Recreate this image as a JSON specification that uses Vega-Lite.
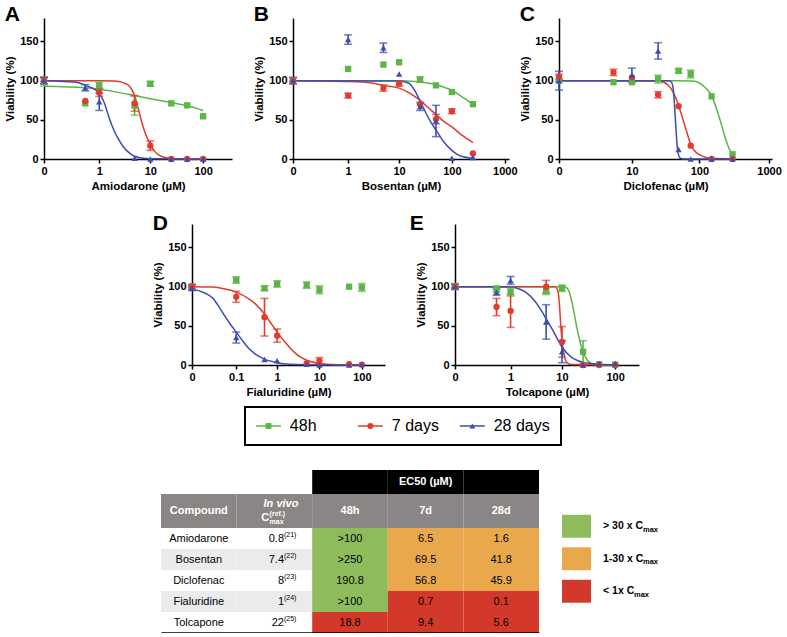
{
"$schema": "https://vega.github.io/schema/vega-lite/v6.json",
"background": "white",
"padding": {"left": 4, "top": 3, "right": 0, "bottom": 0},
"config": {
  "view": {"stroke": null},
  "font": "Liberation Sans",
  "axis": {"domainColor": "black", "domainWidth": 1.5, "tickColor": "black", "tickWidth": 1.5, "tickSize": 4, "grid": false,
    "labelFont": "Liberation Sans", "labelFontWeight": "bold", "labelFontSize": 11, "labelColor": "black", "labelPadding": 2,
    "titleFont": "Liberation Sans", "titleFontWeight": "bold", "titleFontSize": 11.5, "titleColor": "black", "titlePadding": 4},
  "axisX": {"labelFlush": false, "labelOverlap": false},
  "title": {"anchor": "start", "frame": "bounds", "fontSize": 21, "font": "Liberation Sans", "fontWeight": "bold", "color": "black", "offset": -6.5}
},
"datasets": {
  "points": [
    {"panel":"A","series":"48h","dose":0,"viability":99,"sem":6},{"panel":"A","series":"48h","dose":0.5,"viability":71,"sem":0},{"panel":"A","series":"48h","dose":1,"viability":94,"sem":4},{"panel":"A","series":"48h","dose":5,"viability":68,"sem":12},{"panel":"A","series":"48h","dose":10,"viability":96,"sem":3},{"panel":"A","series":"48h","dose":25,"viability":71,"sem":0},{"panel":"A","series":"48h","dose":50,"viability":68.5,"sem":0},{"panel":"A","series":"48h","dose":100,"viability":54.5,"sem":0},
    {"panel":"A","series":"7 days","dose":0,"viability":100,"sem":4},{"panel":"A","series":"7 days","dose":0.5,"viability":74,"sem":0},{"panel":"A","series":"7 days","dose":1,"viability":85,"sem":5},{"panel":"A","series":"7 days","dose":5,"viability":71,"sem":10},{"panel":"A","series":"7 days","dose":10,"viability":17,"sem":6},{"panel":"A","series":"7 days","dose":25,"viability":0,"sem":0},{"panel":"A","series":"7 days","dose":50,"viability":0,"sem":0},{"panel":"A","series":"7 days","dose":100,"viability":0,"sem":0},
    {"panel":"A","series":"28 days","dose":0,"viability":100,"sem":4},{"panel":"A","series":"28 days","dose":0.5,"viability":91,"sem":4},{"panel":"A","series":"28 days","dose":1,"viability":73,"sem":11},{"panel":"A","series":"28 days","dose":5,"viability":1,"sem":0},{"panel":"A","series":"28 days","dose":10,"viability":0,"sem":0},{"panel":"A","series":"28 days","dose":25,"viability":0,"sem":0},{"panel":"A","series":"28 days","dose":50,"viability":0,"sem":0},{"panel":"A","series":"28 days","dose":100,"viability":0,"sem":0},
    {"panel":"B","series":"48h","dose":0,"viability":100,"sem":0},{"panel":"B","series":"48h","dose":1,"viability":115,"sem":0},{"panel":"B","series":"48h","dose":5,"viability":120.5,"sem":0},{"panel":"B","series":"48h","dose":10,"viability":123.5,"sem":0},{"panel":"B","series":"48h","dose":25,"viability":101.5,"sem":3},{"panel":"B","series":"48h","dose":50,"viability":94,"sem":0},{"panel":"B","series":"48h","dose":100,"viability":85.5,"sem":0},{"panel":"B","series":"48h","dose":250,"viability":70,"sem":0},
    {"panel":"B","series":"7 days","dose":0,"viability":100,"sem":4},{"panel":"B","series":"7 days","dose":1,"viability":81,"sem":3},{"panel":"B","series":"7 days","dose":5,"viability":90.5,"sem":4},{"panel":"B","series":"7 days","dose":10,"viability":96,"sem":3},{"panel":"B","series":"7 days","dose":25,"viability":70,"sem":0},{"panel":"B","series":"7 days","dose":50,"viability":51,"sem":6},{"panel":"B","series":"7 days","dose":100,"viability":61,"sem":3},{"panel":"B","series":"7 days","dose":250,"viability":7,"sem":0},
    {"panel":"B","series":"28 days","dose":0,"viability":100,"sem":4},{"panel":"B","series":"28 days","dose":1,"viability":152.5,"sem":6},{"panel":"B","series":"28 days","dose":5,"viability":142,"sem":6},{"panel":"B","series":"28 days","dose":10,"viability":108.5,"sem":0},{"panel":"B","series":"28 days","dose":25,"viability":67,"sem":5},{"panel":"B","series":"28 days","dose":50,"viability":48.5,"sem":20},{"panel":"B","series":"28 days","dose":100,"viability":1,"sem":0},{"panel":"B","series":"28 days","dose":250,"viability":2,"sem":0},
    {"panel":"C","series":"48h","dose":0,"viability":100,"sem":0},{"panel":"C","series":"48h","dose":5,"viability":98,"sem":0},{"panel":"C","series":"48h","dose":10,"viability":98,"sem":0},{"panel":"C","series":"48h","dose":25,"viability":102,"sem":5},{"panel":"C","series":"48h","dose":50,"viability":112.5,"sem":3},{"panel":"C","series":"48h","dose":75,"viability":108.5,"sem":5},{"panel":"C","series":"48h","dose":150,"viability":80,"sem":0},{"panel":"C","series":"48h","dose":300,"viability":6,"sem":0},
    {"panel":"C","series":"7 days","dose":0,"viability":105,"sem":3},{"panel":"C","series":"7 days","dose":5,"viability":110.5,"sem":4},{"panel":"C","series":"7 days","dose":10,"viability":104,"sem":0},{"panel":"C","series":"7 days","dose":25,"viability":82,"sem":4},{"panel":"C","series":"7 days","dose":50,"viability":67.5,"sem":0},{"panel":"C","series":"7 days","dose":75,"viability":17,"sem":0},{"panel":"C","series":"7 days","dose":150,"viability":0,"sem":0},{"panel":"C","series":"7 days","dose":300,"viability":0,"sem":0},
    {"panel":"C","series":"28 days","dose":0,"viability":100,"sem":12},{"panel":"C","series":"28 days","dose":10,"viability":107,"sem":9},{"panel":"C","series":"28 days","dose":25,"viability":138,"sem":10.5},{"panel":"C","series":"28 days","dose":50,"viability":12,"sem":0},{"panel":"C","series":"28 days","dose":75,"viability":0,"sem":0},{"panel":"C","series":"28 days","dose":150,"viability":0,"sem":0},{"panel":"C","series":"28 days","dose":300,"viability":0,"sem":0},
    {"panel":"D","series":"48h","dose":0,"viability":100,"sem":3},{"panel":"D","series":"48h","dose":0.1,"viability":108.5,"sem":4},{"panel":"D","series":"48h","dose":0.5,"viability":98,"sem":3},{"panel":"D","series":"48h","dose":1,"viability":103.5,"sem":4},{"panel":"D","series":"48h","dose":5,"viability":102,"sem":4},{"panel":"D","series":"48h","dose":10,"viability":96,"sem":5},{"panel":"D","series":"48h","dose":50,"viability":100,"sem":0},{"panel":"D","series":"48h","dose":100,"viability":99,"sem":5},
    {"panel":"D","series":"7 days","dose":0,"viability":100,"sem":3},{"panel":"D","series":"7 days","dose":0.1,"viability":87,"sem":7},{"panel":"D","series":"7 days","dose":0.5,"viability":61,"sem":24},{"panel":"D","series":"7 days","dose":1,"viability":37.5,"sem":8.5},{"panel":"D","series":"7 days","dose":5,"viability":2,"sem":0},{"panel":"D","series":"7 days","dose":10,"viability":5.5,"sem":4},{"panel":"D","series":"7 days","dose":50,"viability":1,"sem":0},{"panel":"D","series":"7 days","dose":100,"viability":0.5,"sem":0},
    {"panel":"D","series":"28 days","dose":0,"viability":98,"sem":3},{"panel":"D","series":"28 days","dose":0.1,"viability":35,"sem":7},{"panel":"D","series":"28 days","dose":0.5,"viability":7,"sem":0},{"panel":"D","series":"28 days","dose":1,"viability":5.5,"sem":0},{"panel":"D","series":"28 days","dose":5,"viability":1,"sem":0},{"panel":"D","series":"28 days","dose":10,"viability":0,"sem":0},{"panel":"D","series":"28 days","dose":50,"viability":0,"sem":0},{"panel":"D","series":"28 days","dose":100,"viability":0.5,"sem":0},
    {"panel":"E","series":"48h","dose":0,"viability":100,"sem":4},{"panel":"E","series":"48h","dose":0.5,"viability":97,"sem":4},{"panel":"E","series":"48h","dose":1,"viability":93,"sem":5},{"panel":"E","series":"48h","dose":5,"viability":95,"sem":5},{"panel":"E","series":"48h","dose":10,"viability":98,"sem":4},{"panel":"E","series":"48h","dose":25,"viability":17,"sem":14},{"panel":"E","series":"48h","dose":50,"viability":1,"sem":0},{"panel":"E","series":"48h","dose":100,"viability":0.5,"sem":0},
    {"panel":"E","series":"7 days","dose":0,"viability":100,"sem":3},{"panel":"E","series":"7 days","dose":0.5,"viability":74,"sem":11},{"panel":"E","series":"7 days","dose":1,"viability":69,"sem":21},{"panel":"E","series":"7 days","dose":5,"viability":100,"sem":8},{"panel":"E","series":"7 days","dose":10,"viability":29.5,"sem":19.5},{"panel":"E","series":"7 days","dose":25,"viability":0,"sem":0},{"panel":"E","series":"7 days","dose":50,"viability":0,"sem":0},{"panel":"E","series":"7 days","dose":100,"viability":0,"sem":0},
    {"panel":"E","series":"28 days","dose":0,"viability":100,"sem":3},{"panel":"E","series":"28 days","dose":0.5,"viability":93,"sem":4},{"panel":"E","series":"28 days","dose":1,"viability":108,"sem":5},{"panel":"E","series":"28 days","dose":5,"viability":55,"sem":22},{"panel":"E","series":"28 days","dose":10,"viability":17,"sem":14},{"panel":"E","series":"28 days","dose":25,"viability":0,"sem":0},{"panel":"E","series":"28 days","dose":50,"viability":2,"sem":0},{"panel":"E","series":"28 days","dose":100,"viability":2,"sem":0}
  ],
  "fits": [
    {"panel":"A","series":"48h","dose":0,"viability":93},{"panel":"A","series":"48h","dose":0.5,"viability":91},{"panel":"A","series":"48h","dose":1,"viability":89},{"panel":"A","series":"48h","dose":2,"viability":86},{"panel":"A","series":"48h","dose":5,"viability":81},{"panel":"A","series":"48h","dose":10,"viability":77},{"panel":"A","series":"48h","dose":25,"viability":72},{"panel":"A","series":"48h","dose":50,"viability":68},{"panel":"A","series":"48h","dose":100,"viability":62},
    {"panel":"A","series":"7 days","dose":0,"viability":100},{"panel":"A","series":"7 days","dose":1,"viability":100},{"panel":"A","series":"7 days","dose":2,"viability":99.5},{"panel":"A","series":"7 days","dose":3,"viability":97.5},{"panel":"A","series":"7 days","dose":4,"viability":93},{"panel":"A","series":"7 days","dose":5,"viability":81},{"panel":"A","series":"7 days","dose":6,"viability":62},{"panel":"A","series":"7 days","dose":6.5,"viability":53},{"panel":"A","series":"7 days","dose":7,"viability":45},{"panel":"A","series":"7 days","dose":8,"viability":33},{"panel":"A","series":"7 days","dose":10,"viability":19},{"panel":"A","series":"7 days","dose":12,"viability":10},{"panel":"A","series":"7 days","dose":15,"viability":4.5},{"panel":"A","series":"7 days","dose":20,"viability":1.5},{"panel":"A","series":"7 days","dose":30,"viability":0.3},{"panel":"A","series":"7 days","dose":100,"viability":0},
    {"panel":"A","series":"28 days","dose":0,"viability":100},{"panel":"A","series":"28 days","dose":0.3,"viability":98},{"panel":"A","series":"28 days","dose":0.5,"viability":94},{"panel":"A","series":"28 days","dose":1,"viability":84},{"panel":"A","series":"28 days","dose":1.3,"viability":70},{"panel":"A","series":"28 days","dose":1.6,"viability":52},{"panel":"A","series":"28 days","dose":2,"viability":36},{"panel":"A","series":"28 days","dose":2.5,"viability":24},{"panel":"A","series":"28 days","dose":3,"viability":16},{"panel":"A","series":"28 days","dose":4,"viability":7.5},{"panel":"A","series":"28 days","dose":5,"viability":3.5},{"panel":"A","series":"28 days","dose":7,"viability":1.2},{"panel":"A","series":"28 days","dose":10,"viability":0.4},{"panel":"A","series":"28 days","dose":100,"viability":0},
    {"panel":"B","series":"48h","dose":0,"viability":100},{"panel":"B","series":"48h","dose":10,"viability":99.8},{"panel":"B","series":"48h","dose":20,"viability":99},{"panel":"B","series":"48h","dose":30,"viability":97.5},{"panel":"B","series":"48h","dose":50,"viability":95},{"panel":"B","series":"48h","dose":75,"viability":91},{"panel":"B","series":"48h","dose":100,"viability":87.5},{"panel":"B","series":"48h","dose":150,"viability":80},{"panel":"B","series":"48h","dose":200,"viability":74.5},{"panel":"B","series":"48h","dose":250,"viability":70},
    {"panel":"B","series":"7 days","dose":0,"viability":100},{"panel":"B","series":"7 days","dose":1,"viability":99},{"panel":"B","series":"7 days","dose":3,"viability":97},{"panel":"B","series":"7 days","dose":5,"viability":94},{"panel":"B","series":"7 days","dose":10,"viability":90.5},{"panel":"B","series":"7 days","dose":15,"viability":85},{"panel":"B","series":"7 days","dose":20,"viability":79.5},{"panel":"B","series":"7 days","dose":25,"viability":75},{"panel":"B","series":"7 days","dose":35,"viability":66},{"panel":"B","series":"7 days","dose":50,"viability":57},{"panel":"B","series":"7 days","dose":70,"viability":48},{"panel":"B","series":"7 days","dose":100,"viability":41},{"panel":"B","series":"7 days","dose":150,"viability":31},{"panel":"B","series":"7 days","dose":250,"viability":21},
    {"panel":"B","series":"28 days","dose":0,"viability":100},{"panel":"B","series":"28 days","dose":10,"viability":99.5},{"panel":"B","series":"28 days","dose":15,"viability":97},{"panel":"B","series":"28 days","dose":20,"viability":87},{"panel":"B","series":"28 days","dose":25,"viability":74},{"panel":"B","series":"28 days","dose":30,"viability":63},{"panel":"B","series":"28 days","dose":40,"viability":47},{"panel":"B","series":"28 days","dose":50,"viability":37},{"panel":"B","series":"28 days","dose":70,"viability":22},{"panel":"B","series":"28 days","dose":100,"viability":11},{"panel":"B","series":"28 days","dose":150,"viability":3.5},{"panel":"B","series":"28 days","dose":250,"viability":1},
    {"panel":"C","series":"48h","dose":0,"viability":100},{"panel":"C","series":"48h","dose":50,"viability":100},{"panel":"C","series":"48h","dose":80,"viability":99.5},{"panel":"C","series":"48h","dose":100,"viability":97},{"panel":"C","series":"48h","dose":120,"viability":91.5},{"panel":"C","series":"48h","dose":150,"viability":81},{"panel":"C","series":"48h","dose":180,"viability":62},{"panel":"C","series":"48h","dose":200,"viability":49},{"panel":"C","series":"48h","dose":225,"viability":33},{"panel":"C","series":"48h","dose":250,"viability":20},{"panel":"C","series":"48h","dose":275,"viability":11},{"panel":"C","series":"48h","dose":300,"viability":6},
    {"panel":"C","series":"7 days","dose":0,"viability":100},{"panel":"C","series":"7 days","dose":25,"viability":99.5},{"panel":"C","series":"7 days","dose":30,"viability":98},{"panel":"C","series":"7 days","dose":35,"viability":94.5},{"panel":"C","series":"7 days","dose":40,"viability":88},{"panel":"C","series":"7 days","dose":45,"viability":79},{"panel":"C","series":"7 days","dose":50,"viability":68},{"panel":"C","series":"7 days","dose":55,"viability":57},{"panel":"C","series":"7 days","dose":60,"viability":46},{"panel":"C","series":"7 days","dose":65,"viability":36},{"panel":"C","series":"7 days","dose":75,"viability":19},{"panel":"C","series":"7 days","dose":85,"viability":10.5},{"panel":"C","series":"7 days","dose":100,"viability":5.5},{"panel":"C","series":"7 days","dose":125,"viability":2},{"panel":"C","series":"7 days","dose":150,"viability":0.8},{"panel":"C","series":"7 days","dose":300,"viability":0},
    {"panel":"C","series":"28 days","dose":0,"viability":100},{"panel":"C","series":"28 days","dose":37,"viability":100},{"panel":"C","series":"28 days","dose":40,"viability":97},{"panel":"C","series":"28 days","dose":42,"viability":88},{"panel":"C","series":"28 days","dose":43.5,"viability":70},{"panel":"C","series":"28 days","dose":45,"viability":50},{"panel":"C","series":"28 days","dose":46.5,"viability":30},{"panel":"C","series":"28 days","dose":48,"viability":14},{"panel":"C","series":"28 days","dose":50,"viability":5},{"panel":"C","series":"28 days","dose":53,"viability":1},{"panel":"C","series":"28 days","dose":60,"viability":0},{"panel":"C","series":"28 days","dose":300,"viability":0},
    {"panel":"D","series":"7 days","dose":0,"viability":100},{"panel":"D","series":"7 days","dose":0.02,"viability":99.5},{"panel":"D","series":"7 days","dose":0.05,"viability":97},{"panel":"D","series":"7 days","dose":0.1,"viability":93},{"panel":"D","series":"7 days","dose":0.2,"viability":85},{"panel":"D","series":"7 days","dose":0.3,"viability":78},{"panel":"D","series":"7 days","dose":0.5,"viability":65},{"panel":"D","series":"7 days","dose":0.7,"viability":54},{"panel":"D","series":"7 days","dose":1,"viability":42},{"panel":"D","series":"7 days","dose":1.5,"viability":30},{"panel":"D","series":"7 days","dose":2,"viability":22},{"panel":"D","series":"7 days","dose":3,"viability":13},{"panel":"D","series":"7 days","dose":5,"viability":6},{"panel":"D","series":"7 days","dose":10,"viability":2},{"panel":"D","series":"7 days","dose":20,"viability":0.7},{"panel":"D","series":"7 days","dose":50,"viability":0.2},{"panel":"D","series":"7 days","dose":100,"viability":0},
    {"panel":"D","series":"28 days","dose":0,"viability":97},{"panel":"D","series":"28 days","dose":0.02,"viability":86},{"panel":"D","series":"28 days","dose":0.03,"viability":77},{"panel":"D","series":"28 days","dose":0.05,"viability":62},{"panel":"D","series":"28 days","dose":0.07,"viability":52},{"panel":"D","series":"28 days","dose":0.1,"viability":42},{"panel":"D","series":"28 days","dose":0.15,"viability":30},{"panel":"D","series":"28 days","dose":0.2,"viability":22},{"panel":"D","series":"28 days","dose":0.3,"viability":14},{"panel":"D","series":"28 days","dose":0.5,"viability":7.5},{"panel":"D","series":"28 days","dose":1,"viability":3},{"panel":"D","series":"28 days","dose":2,"viability":1},{"panel":"D","series":"28 days","dose":5,"viability":0.3},{"panel":"D","series":"28 days","dose":100,"viability":0},
    {"panel":"E","series":"48h","dose":0,"viability":100},{"panel":"E","series":"48h","dose":10,"viability":100},{"panel":"E","series":"48h","dose":12,"viability":99},{"panel":"E","series":"48h","dose":13,"viability":96.5},{"panel":"E","series":"48h","dose":15,"viability":84},{"panel":"E","series":"48h","dose":17,"viability":66},{"panel":"E","series":"48h","dose":18.8,"viability":50},{"panel":"E","series":"48h","dose":20,"viability":41},{"panel":"E","series":"48h","dose":22,"viability":29},{"panel":"E","series":"48h","dose":25,"viability":17},{"panel":"E","series":"48h","dose":30,"viability":6},{"panel":"E","series":"48h","dose":35,"viability":2.5},{"panel":"E","series":"48h","dose":40,"viability":1},{"panel":"E","series":"48h","dose":50,"viability":0.3},{"panel":"E","series":"48h","dose":100,"viability":0},
    {"panel":"E","series":"7 days","dose":0,"viability":100},{"panel":"E","series":"7 days","dose":7.5,"viability":100},{"panel":"E","series":"7 days","dose":8.5,"viability":92},{"panel":"E","series":"7 days","dose":9,"viability":75},{"panel":"E","series":"7 days","dose":9.5,"viability":50},{"panel":"E","series":"7 days","dose":10,"viability":32},{"panel":"E","series":"7 days","dose":10.5,"viability":20},{"panel":"E","series":"7 days","dose":11,"viability":12},{"panel":"E","series":"7 days","dose":12,"viability":4.5},{"panel":"E","series":"7 days","dose":13,"viability":2},{"panel":"E","series":"7 days","dose":15,"viability":0.5},{"panel":"E","series":"7 days","dose":100,"viability":0},
    {"panel":"E","series":"28 days","dose":0,"viability":100},{"panel":"E","series":"28 days","dose":0.5,"viability":100},{"panel":"E","series":"28 days","dose":1,"viability":99.5},{"panel":"E","series":"28 days","dose":1.5,"viability":97},{"panel":"E","series":"28 days","dose":2,"viability":93},{"panel":"E","series":"28 days","dose":3,"viability":82},{"panel":"E","series":"28 days","dose":4,"viability":70},{"panel":"E","series":"28 days","dose":5,"viability":59},{"panel":"E","series":"28 days","dose":7,"viability":42},{"panel":"E","series":"28 days","dose":10,"viability":23},{"panel":"E","series":"28 days","dose":15,"viability":10},{"panel":"E","series":"28 days","dose":20,"viability":5.5},{"panel":"E","series":"28 days","dose":30,"viability":2.5},{"panel":"E","series":"28 days","dose":50,"viability":1},{"panel":"E","series":"28 days","dose":100,"viability":0.3}
  ],
  "series": [{"series":"48h"},{"series":"7 days"},{"series":"28 days"}],
  "ec50cols": [{"col":"48h"},{"col":"7d"},{"col":"28d"}],
  "header": [{"col":"Compound","label":"Compound"},{"col":"In vivo","label":""},{"col":"48h","label":"48h"},{"col":"7d","label":"7d"},{"col":"28d","label":"28d"}],
  "table": [
    {"compound":"Amiodarone","col":"Compound","value":"Amiodarone"},{"compound":"Amiodarone","col":"In vivo","value":"0.8","ref":"(21)"},{"compound":"Amiodarone","col":"48h","value":">100","category":"> 30 x Cmax"},{"compound":"Amiodarone","col":"7d","value":"6.5","category":"1-30 x Cmax"},{"compound":"Amiodarone","col":"28d","value":"1.6","category":"1-30 x Cmax"},
    {"compound":"Bosentan","col":"Compound","value":"Bosentan"},{"compound":"Bosentan","col":"In vivo","value":"7.4","ref":"(22)"},{"compound":"Bosentan","col":"48h","value":">250","category":"> 30 x Cmax"},{"compound":"Bosentan","col":"7d","value":"69.5","category":"1-30 x Cmax"},{"compound":"Bosentan","col":"28d","value":"41.8","category":"1-30 x Cmax"},
    {"compound":"Diclofenac","col":"Compound","value":"Diclofenac"},{"compound":"Diclofenac","col":"In vivo","value":"8","ref":"(23)"},{"compound":"Diclofenac","col":"48h","value":"190.8","category":"> 30 x Cmax"},{"compound":"Diclofenac","col":"7d","value":"56.8","category":"1-30 x Cmax"},{"compound":"Diclofenac","col":"28d","value":"45.9","category":"1-30 x Cmax"},
    {"compound":"Fialuridine","col":"Compound","value":"Fialuridine"},{"compound":"Fialuridine","col":"In vivo","value":"1","ref":"(24)"},{"compound":"Fialuridine","col":"48h","value":">100","category":"> 30 x Cmax"},{"compound":"Fialuridine","col":"7d","value":"0.7","category":"< 1x Cmax"},{"compound":"Fialuridine","col":"28d","value":"0.1","category":"< 1x Cmax"},
    {"compound":"Tolcapone","col":"Compound","value":"Tolcapone"},{"compound":"Tolcapone","col":"In vivo","value":"22","ref":"(25)"},{"compound":"Tolcapone","col":"48h","value":"18.8","category":"< 1x Cmax"},{"compound":"Tolcapone","col":"7d","value":"9.4","category":"< 1x Cmax"},{"compound":"Tolcapone","col":"28d","value":"5.6","category":"< 1x Cmax"}
  ],
  "cats": [{"category":"> 30 x Cmax","label":"> 30 x C"},{"category":"1-30 x Cmax","label":"1-30 x C"},{"category":"< 1x Cmax","label":"< 1x C"}]
},
"resolve": {"scale": {"color": "independent", "shape": "independent"}},
"spacing": 8,
"vconcat": [
  {"hconcat": [
    {"hconcat": [
      {"width": 188, "height": 141, "title": {"text": "A"},
       "layer": [
        {"data": {"name": "fits"}, "transform": [{"filter": "datum.panel == 'A'"}], "mark": {"type": "line", "interpolate": "monotone", "strokeWidth": 1.5},
         "encoding": {"x": {"field": "dose", "type": "quantitative", "title": "Amiodarone (µM)", "scale": {"type": "symlog", "constant": 0.1, "domain": [0, 350]}, "axis": {"values": [0, 1, 10, 100], "labelExpr": "'' + datum.value"}},
          "y": {"field": "viability", "type": "quantitative", "title": "Viability (%)", "scale": {"domain": [0, 180]}, "axis": {"values": [0, 50, 100, 150]}},
          "color": {"field": "series", "type": "nominal", "scale": {"domain": ["48h", "7 days", "28 days"], "range": ["#5cb646", "#e23b2b", "#3b4db3"]}, "legend": null}}},
        {"data": {"name": "points"}, "transform": [{"filter": "datum.panel == 'A' && datum.sem > 0"}], "mark": {"type": "errorbar", "ticks": {"size": 8}, "thickness": 1.6},
         "encoding": {"x": {"field": "dose", "type": "quantitative", "title": "Amiodarone (µM)"}, "y": {"field": "viability", "type": "quantitative", "title": "Viability (%)"}, "yError": {"field": "sem"},
          "color": {"field": "series", "type": "nominal", "legend": null}}},
        {"data": {"name": "points"}, "transform": [{"filter": "datum.panel == 'A'"}], "mark": {"type": "point", "filled": true, "opacity": 1, "size": 40},
         "encoding": {"x": {"field": "dose", "type": "quantitative", "title": "Amiodarone (µM)"}, "y": {"field": "viability", "type": "quantitative", "title": "Viability (%)"},
          "color": {"field": "series", "type": "nominal", "legend": null},
          "shape": {"field": "series", "type": "nominal", "scale": {"domain": ["48h", "7 days", "28 days"], "range": ["square", "circle", "triangle-up"]}, "legend": null}}}
       ]},
      {"width": 216, "height": 141, "title": {"text": "B"},
       "layer": [
        {"data": {"name": "fits"}, "transform": [{"filter": "datum.panel == 'B'"}], "mark": {"type": "line", "interpolate": "monotone", "strokeWidth": 1.5},
         "encoding": {"x": {"field": "dose", "type": "quantitative", "title": "Bosentan (µM)", "scale": {"type": "symlog", "constant": 0.1, "domain": [0, 1150]}, "axis": {"values": [0, 1, 10, 100, 1000], "labelExpr": "'' + datum.value"}},
          "y": {"field": "viability", "type": "quantitative", "title": "Viability (%)", "scale": {"domain": [0, 180]}, "axis": {"values": [0, 50, 100, 150]}},
          "color": {"field": "series", "type": "nominal", "scale": {"domain": ["48h", "7 days", "28 days"], "range": ["#5cb646", "#e23b2b", "#3b4db3"]}, "legend": null}}},
        {"data": {"name": "points"}, "transform": [{"filter": "datum.panel == 'B' && datum.sem > 0"}], "mark": {"type": "errorbar", "ticks": {"size": 8}, "thickness": 1.6},
         "encoding": {"x": {"field": "dose", "type": "quantitative", "title": "Bosentan (µM)"}, "y": {"field": "viability", "type": "quantitative", "title": "Viability (%)"}, "yError": {"field": "sem"},
          "color": {"field": "series", "type": "nominal", "legend": null}}},
        {"data": {"name": "points"}, "transform": [{"filter": "datum.panel == 'B'"}], "mark": {"type": "point", "filled": true, "opacity": 1, "size": 40},
         "encoding": {"x": {"field": "dose", "type": "quantitative", "title": "Bosentan (µM)"}, "y": {"field": "viability", "type": "quantitative", "title": "Viability (%)"},
          "color": {"field": "series", "type": "nominal", "legend": null},
          "shape": {"field": "series", "type": "nominal", "scale": {"domain": ["48h", "7 days", "28 days"], "range": ["square", "circle", "triangle-up"]}, "legend": null}}}
       ]}
    ], "spacing": 21},
    {"width": 213, "height": 141, "title": {"text": "C"},
     "layer": [
      {"data": {"name": "fits"}, "transform": [{"filter": "datum.panel == 'C'"}], "mark": {"type": "line", "interpolate": "monotone", "strokeWidth": 1.5},
       "encoding": {"x": {"field": "dose", "type": "quantitative", "title": "Diclofenac (µM)", "scale": {"type": "symlog", "constant": 1, "domain": [0, 1040]}, "axis": {"values": [0, 10, 100, 1000], "labelExpr": "'' + datum.value"}},
        "y": {"field": "viability", "type": "quantitative", "title": "Viability (%)", "scale": {"domain": [0, 180]}, "axis": {"values": [0, 50, 100, 150]}},
        "color": {"field": "series", "type": "nominal", "scale": {"domain": ["48h", "7 days", "28 days"], "range": ["#5cb646", "#e23b2b", "#3b4db3"]}, "legend": null}}},
      {"data": {"name": "points"}, "transform": [{"filter": "datum.panel == 'C' && datum.sem > 0"}], "mark": {"type": "errorbar", "ticks": {"size": 8}, "thickness": 1.6},
       "encoding": {"x": {"field": "dose", "type": "quantitative", "title": "Diclofenac (µM)"}, "y": {"field": "viability", "type": "quantitative", "title": "Viability (%)"}, "yError": {"field": "sem"},
        "color": {"field": "series", "type": "nominal", "legend": null}}},
      {"data": {"name": "points"}, "transform": [{"filter": "datum.panel == 'C'"}], "mark": {"type": "point", "filled": true, "opacity": 1, "size": 40},
       "encoding": {"x": {"field": "dose", "type": "quantitative", "title": "Diclofenac (µM)"}, "y": {"field": "viability", "type": "quantitative", "title": "Viability (%)"},
        "color": {"field": "series", "type": "nominal", "legend": null},
        "shape": {"field": "series", "type": "nominal", "scale": {"domain": ["48h", "7 days", "28 days"], "range": ["square", "circle", "triangle-up"]}, "legend": null}}}
     ]},
    {"width": 1, "height": 186, "data": {"values": [{}]}, "mark": {"type": "point", "opacity": 0}}
  ], "spacing": 1},
  {"hconcat": [
    {"width": 108, "height": 1, "data": {"values": [{}]}, "mark": {"type": "point", "opacity": 0}},
    {"hconcat": [
      {"width": 193, "height": 141, "title": {"text": "D", "offset": -9.5},
       "layer": [
        {"data": {"name": "fits"}, "transform": [{"filter": "datum.panel == 'D'"}], "mark": {"type": "line", "interpolate": "monotone", "strokeWidth": 1.5},
         "encoding": {"x": {"field": "dose", "type": "quantitative", "title": "Fialuridine (µM)", "scale": {"type": "symlog", "constant": 0.01, "domain": [0, 325]}, "axis": {"values": [0, 0.1, 1, 10, 100], "labelExpr": "'' + datum.value"}},
          "y": {"field": "viability", "type": "quantitative", "title": "Viability (%)", "scale": {"domain": [0, 180]}, "axis": {"values": [0, 50, 100, 150]}},
          "color": {"field": "series", "type": "nominal", "scale": {"domain": ["48h", "7 days", "28 days"], "range": ["#5cb646", "#e23b2b", "#3b4db3"]}, "legend": null}}},
        {"data": {"name": "points"}, "transform": [{"filter": "datum.panel == 'D' && datum.sem > 0"}], "mark": {"type": "errorbar", "ticks": {"size": 8}, "thickness": 1.6},
         "encoding": {"x": {"field": "dose", "type": "quantitative", "title": "Fialuridine (µM)"}, "y": {"field": "viability", "type": "quantitative", "title": "Viability (%)"}, "yError": {"field": "sem"},
          "color": {"field": "series", "type": "nominal", "legend": null}}},
        {"data": {"name": "points"}, "transform": [{"filter": "datum.panel == 'D'"}], "mark": {"type": "point", "filled": true, "opacity": 1, "size": 40},
         "encoding": {"x": {"field": "dose", "type": "quantitative", "title": "Fialuridine (µM)"}, "y": {"field": "viability", "type": "quantitative", "title": "Viability (%)"},
          "color": {"field": "series", "type": "nominal", "legend": null},
          "shape": {"field": "series", "type": "nominal", "scale": {"domain": ["48h", "7 days", "28 days"], "range": ["square", "circle", "triangle-up"]}, "legend": null}}}
       ]},
      {"width": 184, "height": 141, "title": {"text": "E", "dx": -6, "offset": -9.5},
       "layer": [
        {"data": {"name": "fits"}, "transform": [{"filter": "datum.panel == 'E'"}], "mark": {"type": "line", "interpolate": "monotone", "strokeWidth": 1.5},
         "encoding": {"x": {"field": "dose", "type": "quantitative", "title": "Tolcapone (µM)", "scale": {"type": "symlog", "constant": 0.1, "domain": [0, 280]}, "axis": {"values": [0, 1, 10, 100], "labelExpr": "'' + datum.value"}},
          "y": {"field": "viability", "type": "quantitative", "title": "Viability (%)", "scale": {"domain": [0, 180]}, "axis": {"values": [0, 50, 100, 150]}},
          "color": {"field": "series", "type": "nominal", "scale": {"domain": ["48h", "7 days", "28 days"], "range": ["#5cb646", "#e23b2b", "#3b4db3"]}, "legend": null}}},
        {"data": {"name": "points"}, "transform": [{"filter": "datum.panel == 'E' && datum.sem > 0"}], "mark": {"type": "errorbar", "ticks": {"size": 8}, "thickness": 1.6},
         "encoding": {"x": {"field": "dose", "type": "quantitative", "title": "Tolcapone (µM)"}, "y": {"field": "viability", "type": "quantitative", "title": "Viability (%)"}, "yError": {"field": "sem"},
          "color": {"field": "series", "type": "nominal", "legend": null}}},
        {"data": {"name": "points"}, "transform": [{"filter": "datum.panel == 'E'"}], "mark": {"type": "point", "filled": true, "opacity": 1, "size": 40},
         "encoding": {"x": {"field": "dose", "type": "quantitative", "title": "Tolcapone (µM)"}, "y": {"field": "viability", "type": "quantitative", "title": "Viability (%)"},
          "color": {"field": "series", "type": "nominal", "legend": null},
          "shape": {"field": "series", "type": "nominal", "scale": {"domain": ["48h", "7 days", "28 days"], "range": ["square", "circle", "triangle-up"]}, "legend": null}}}
       ]}
    ], "spacing": 24}
  ], "spacing": 0},
  {"hconcat": [
    {"width": 200, "height": 52, "data": {"values": [{}]}, "mark": {"type": "point", "opacity": 0}},
    {"width": 316, "height": 38, "view": {"stroke": "black", "strokeWidth": 2},
     "data": {"name": "series"},
     "layer": [
      {"mark": {"type": "point", "shape": "M-1,0H1", "size": 625, "filled": false, "strokeWidth": 1.5, "opacity": 1},
       "encoding": {"x": {"field": "series", "type": "nominal", "bandPosition": 0.18, "scale": {"type": "band", "domain": ["48h", "7 days", "28 days"], "paddingInner": 0, "paddingOuter": 0.05}, "axis": null},
        "color": {"field": "series", "type": "nominal", "scale": {"domain": ["48h", "7 days", "28 days"], "range": ["#5cb646", "#e23b2b", "#3b4db3"]}, "legend": null}}},
      {"mark": {"type": "point", "filled": true, "opacity": 1, "size": 35},
       "encoding": {"x": {"field": "series", "type": "nominal", "bandPosition": 0.18, "axis": null},
        "color": {"field": "series", "type": "nominal", "legend": null},
        "shape": {"field": "series", "type": "nominal", "scale": {"domain": ["48h", "7 days", "28 days"], "range": ["square", "circle", "triangle-up"]}, "legend": null}}},
      {"mark": {"type": "text", "align": "left", "baseline": "middle", "fontSize": 16, "font": "Liberation Sans", "color": "black"},
       "encoding": {"x": {"field": "series", "type": "nominal", "bandPosition": 0.39, "axis": null}, "text": {"field": "series"}}}
     ]}
  ], "spacing": 0},
  {"hconcat": [
    {"width": 117, "height": 1, "data": {"values": [{}]}, "mark": {"type": "point", "opacity": 0}},
    {"hconcat": [
      {"vconcat": [
        {"width": 378, "height": 24, "data": {"name": "ec50cols"},
         "encoding": {"x": {"field": "col", "type": "nominal", "scale": {"type": "band", "domain": ["Compound", "In vivo", "48h", "7d", "28d"], "paddingInner": 0, "paddingOuter": 0}, "axis": null}},
         "layer": [
          {"mark": {"type": "rect", "color": "black"}},
          {"transform": [{"filter": "datum.col == '7d'"}], "mark": {"type": "text", "text": "EC50 (µM)", "color": "white", "fontWeight": "bold", "fontSize": 11, "font": "Liberation Sans"}}
         ]},
        {"width": 378, "height": 34, "data": {"name": "header"},
         "encoding": {"x": {"field": "col", "type": "nominal", "scale": {"type": "band", "domain": ["Compound", "In vivo", "48h", "7d", "28d"], "paddingInner": 0, "paddingOuter": 0}, "axis": null}},
         "layer": [
          {"mark": {"type": "rect", "color": "#8b8685"}},
          {"transform": [{"filter": "datum.col != 'In vivo'"}], "mark": {"type": "text", "color": "white", "fontWeight": "bold", "fontSize": 11, "font": "Liberation Sans"}, "encoding": {"text": {"field": "label"}}},
          {"transform": [{"filter": "datum.col == 'In vivo'"}], "mark": {"type": "text", "text": "In vivo", "color": "white", "fontWeight": "bold", "fontStyle": "italic", "fontSize": 11, "font": "Liberation Sans", "dy": -7},
           "encoding": {"x": {"field": "col", "type": "nominal", "bandPosition": 0.587, "axis": null}}},
          {"transform": [{"filter": "datum.col == 'In vivo'"}], "mark": {"type": "text", "text": "C", "align": "right", "color": "white", "fontWeight": "bold", "fontSize": 11, "font": "Liberation Sans", "dy": 7},
           "encoding": {"x": {"field": "col", "type": "nominal", "bandPosition": 0.43, "axis": null}}},
          {"transform": [{"filter": "datum.col == 'In vivo'"}], "mark": {"type": "text", "text": "max", "align": "left", "color": "white", "fontWeight": "bold", "fontSize": 7, "font": "Liberation Sans", "dy": 11, "dx": 0.5},
           "encoding": {"x": {"field": "col", "type": "nominal", "bandPosition": 0.43, "axis": null}}},
          {"transform": [{"filter": "datum.col == 'In vivo'"}], "mark": {"type": "text", "text": "(ref.)", "align": "left", "color": "white", "fontWeight": "bold", "fontSize": 7, "font": "Liberation Sans", "dy": 3, "dx": 0.5},
           "encoding": {"x": {"field": "col", "type": "nominal", "bandPosition": 0.43, "axis": null}}}
         ]},
        {"width": 378, "height": 105, "data": {"name": "table"},
         "encoding": {"x": {"field": "col", "type": "nominal", "scale": {"type": "band", "domain": ["Compound", "In vivo", "48h", "7d", "28d"], "paddingInner": 0, "paddingOuter": 0}, "axis": {"labels": false, "ticks": false, "title": null, "domainWidth": 2.5, "domainColor": "black"}},
          "y": {"field": "compound", "type": "nominal", "scale": {"type": "band", "domain": ["Amiodarone", "Bosentan", "Diclofenac", "Fialuridine", "Tolcapone"], "paddingInner": 0, "paddingOuter": 0}, "axis": null}},
         "layer": [
          {"transform": [{"filter": "(datum.col == 'Compound' || datum.col == 'In vivo') && (datum.compound == 'Bosentan' || datum.compound == 'Fialuridine')"}], "mark": {"type": "rect", "color": "#ebebeb"}},
          {"transform": [{"filter": "isValid(datum.category)"}], "mark": {"type": "rect"},
           "encoding": {"color": {"field": "category", "type": "nominal", "scale": {"domain": ["> 30 x Cmax", "1-30 x Cmax", "< 1x Cmax"], "range": ["#8fbc5b", "#e9a84c", "#d3392b"]}, "legend": null}}},
          {"transform": [{"filter": "datum.col != 'In vivo'"}], "mark": {"type": "text", "fontSize": 11, "font": "Liberation Sans", "color": "black"}, "encoding": {"text": {"field": "value"}}},
          {"transform": [{"filter": "datum.col == 'In vivo'"}], "mark": {"type": "text", "align": "right", "fontSize": 11, "font": "Liberation Sans", "color": "black"},
           "encoding": {"x": {"field": "col", "type": "nominal", "bandPosition": 0.627, "axis": {"labels": false, "ticks": false, "title": null, "domainWidth": 2.5, "domainColor": "black"}}, "text": {"field": "value"}}},
          {"transform": [{"filter": "datum.col == 'In vivo'"}], "mark": {"type": "text", "align": "left", "fontSize": 7, "font": "Liberation Sans", "color": "black", "dy": -4},
           "encoding": {"x": {"field": "col", "type": "nominal", "bandPosition": 0.627, "axis": {"labels": false, "ticks": false, "title": null, "domainWidth": 2.5, "domainColor": "black"}}, "text": {"field": "ref"}}}
         ]}
      ], "spacing": 0},
      {"vconcat": [
        {"width": 1, "height": 32, "data": {"values": [{}]}, "mark": {"type": "point", "opacity": 0}},
        {"width": 29, "height": 97.5, "data": {"name": "cats"},
         "encoding": {"y": {"field": "category", "type": "nominal", "scale": {"type": "band", "domain": ["> 30 x Cmax", "1-30 x Cmax", "< 1x Cmax"], "paddingInner": 0, "paddingOuter": 0}, "axis": null}},
         "layer": [
          {"mark": {"type": "point", "shape": "M-1,-0.79H1V0.79H-1Z", "size": 841, "filled": true, "opacity": 1},
           "encoding": {"color": {"field": "category", "type": "nominal", "scale": {"domain": ["> 30 x Cmax", "1-30 x Cmax", "< 1x Cmax"], "range": ["#8fbc5b", "#e9a84c", "#d3392b"]}, "legend": null}}},
          {"mark": {"type": "text", "align": "left", "dx": 26.5, "fontSize": 10.5, "fontWeight": "bold", "font": "Liberation Sans", "color": "black"}, "encoding": {"text": {"field": "label"}}},
          {"transform": [{"filter": "datum.category != '< 1x Cmax'"}], "mark": {"type": "text", "text": "max", "align": "left", "dx": 66.5, "dy": 3.5, "fontSize": 7.5, "fontWeight": "bold", "font": "Liberation Sans", "color": "black"}},
          {"transform": [{"filter": "datum.category == '< 1x Cmax'"}], "mark": {"type": "text", "text": "max", "align": "left", "dx": 57.5, "dy": 3.5, "fontSize": 7.5, "fontWeight": "bold", "font": "Liberation Sans", "color": "black"}}
         ]}
      ], "spacing": 8}
    ], "spacing": 20}
  ], "spacing": 0}
]
}
